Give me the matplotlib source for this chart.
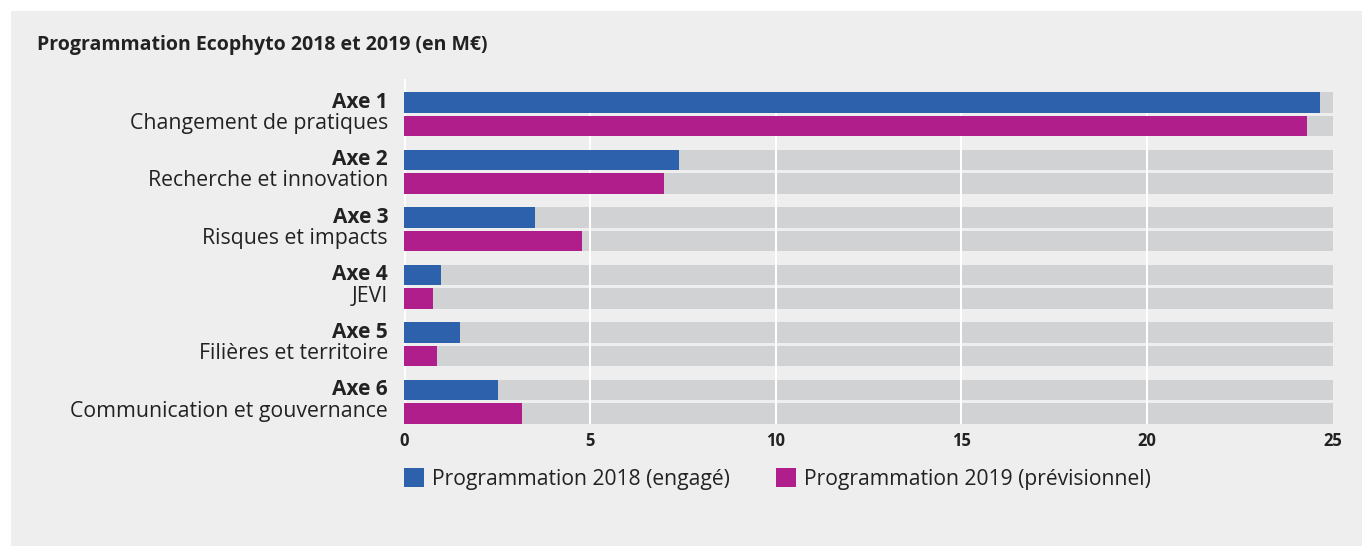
import matplotlib
matplotlib.use("Agg")
import matplotlib.pyplot as plt
from matplotlib.patches import Rectangle, Patch
import numpy as np

# ---------------------------------------------------------------------
# Données (M€)
# ---------------------------------------------------------------------
axes_noms = ["Axe 1", "Axe 2", "Axe 3", "Axe 4", "Axe 5", "Axe 6"]
axes_libelles = [
    "Changement de pratiques",
    "Recherche et innovation",
    "Risques et impacts",
    "JEVI",
    "Filières et territoire",
    "Communication et gouvernance",
]
prog_2018 = [24.65, 7.4, 3.53, 1.0, 1.5, 2.52]
prog_2019 = [24.3, 7.0, 4.79, 0.78, 0.89, 3.18]
x_max = 25
x_ticks = [0, 5, 10, 15, 20, 25]

BLEU = "#2e61ac"
MAGENTA = "#b01e8c"
GRIS_BARRE = "#d1d2d4"
FOND = "#eeeeee"
TEXTE = "#222222"

plt.rcParams["font.family"] = ["Open Sans", "DejaVu Sans"]

W, H = 1362, 546
fig = plt.figure(figsize=(W / 100, H / 100), dpi=100)
fig.patch.set_facecolor("white")

# panneau gris
fig.patches.append(
    Rectangle((11 / W, 0), 1 - 11 / W, 1 - 11 / H, transform=fig.transFigure,
              facecolor=FOND, edgecolor="none", zorder=-10)
)

ax = fig.add_axes([404 / W, 1 - 424 / H, 929 / W, 345 / H])
ax.set_facecolor("none")

y = np.arange(len(axes_noms))
dy = 0.2045
h = 0.357

# barres de fond
ax.barh(y - dy, x_max, height=h, color=GRIS_BARRE, zorder=1)
ax.barh(y + dy, x_max, height=h, color=GRIS_BARRE, zorder=1)

# grille blanche
top_bar = y[0] - dy - h / 2
bot_bar = y[-1] + dy + h / 2
ax.vlines([5, 10, 15, 20], top_bar, bot_bar, color="white", lw=1.5, zorder=2)
ax.axvline(0, color="white", lw=2, zorder=2)

ax.barh(y - dy, prog_2018, height=h, color=BLEU, zorder=3)
ax.barh(y + dy, prog_2019, height=h, color=MAGENTA, zorder=3)

ax.set_xlim(0, x_max)
ax.set_ylim(bot_bar + 0.007, top_bar - 0.226)

for s in ax.spines.values():
    s.set_visible(False)
ax.set_yticks([])
ax.set_xticks(x_ticks)
ax.set_xticklabels([str(t) for t in x_ticks], fontsize=12, fontweight="bold", color=TEXTE)
ax.tick_params(axis="x", length=0, pad=6)

for i, (nom, lib) in enumerate(zip(axes_noms, axes_libelles)):
    ax.annotate(nom, xy=(0, i - dy), xycoords=("axes fraction", "data"),
                xytext=(-11.5, 0), textcoords="offset points",
                ha="right", va="center", fontsize=15, fontweight="bold", color=TEXTE)
    ax.annotate(lib, xy=(0, i + dy - 0.04), xycoords=("axes fraction", "data"),
                xytext=(-11.5, 0), textcoords="offset points",
                ha="right", va="center", fontsize=15.3, color=TEXTE)

fig.text(37 / W, 1 - 45 / H, "Programmation Ecophyto 2018 et 2019 (en M€)",
         ha="left", va="center", fontsize=14, fontweight="bold", color=TEXTE)

handles = [Patch(facecolor=BLEU, edgecolor="none"),
           Patch(facecolor=MAGENTA, edgecolor="none")]
fig.legend(handles, ["Programmation 2018 (engagé)", "Programmation 2019 (prévisionnel)"],
           loc="center left", bbox_to_anchor=(404 / W, 1 - 479 / H), ncol=2,
           frameon=False, fontsize=15.2, handlelength=0.95, handleheight=0.95,
           handletextpad=0.38, columnspacing=2.2, borderpad=0, borderaxespad=0,
           labelcolor=TEXTE)

fig.savefig("out.png", dpi=100)
